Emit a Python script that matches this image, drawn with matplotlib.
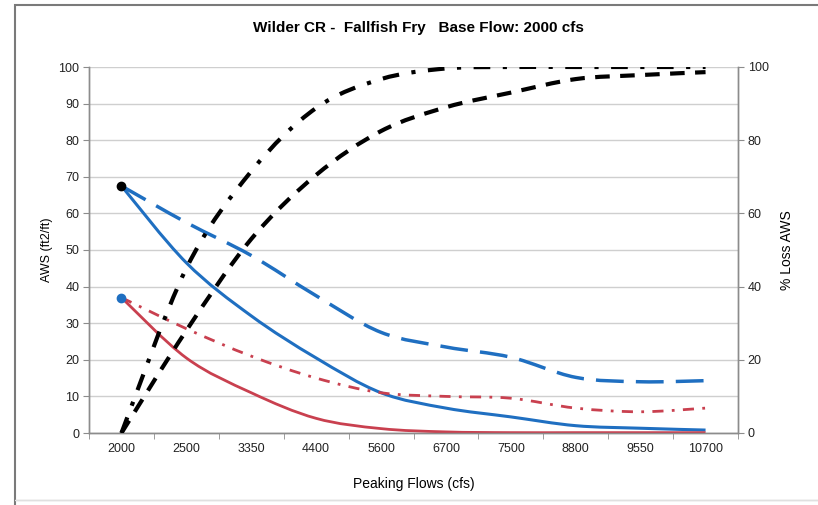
import numpy as np
import matplotlib.pyplot as plt
from matplotlib.path import Path
from matplotlib.patches import PathPatch, Rectangle

flows = ['2000', '2500', '3350', '4400', '5600', '6700', '7500', '8800', '9550', '10700']

# AWS (ft2/ft), left axis
aws_blue_solid = [67.5, 46.5, 32, 20.5, 11, 6.8, 4.4, 2.0, 1.3, 0.8]
aws_blue_dashed = [67.5, 57.5, 48.5, 37.5, 27.5, 23.5, 20.7, 15.2, 14, 14.3]
aws_red_solid = [37, 20.5, 11, 4, 1.2, 0.3, 0.1, 0.1, 0.1, 0.1]
aws_red_dashdot = [37, 28.5, 21, 15, 11, 10, 9.5, 6.8, 5.8, 6.8]

# % loss AWS, right axis
loss_dashed = [0, 28, 53, 70.5, 82.5, 89, 93, 96.7, 97.8, 98.6]
loss_dashdot = [0, 45, 71.5, 88.8, 96.7, 99.6, 100, 100, 100, 100]

BLUE = '#1f6fc1'
RED = '#c9404f'
GRID = '#cfcfcf'
AX = '#8c8c8c'

plt.rcParams['font.family'] = ['Liberation Sans', 'DejaVu Sans']


def smooth_path(xs, ys):
    # Excel style smoothed line: cubic bezier through every point
    pts = np.column_stack([xs, ys]).astype(float)
    verts = [pts[0]]
    codes = [Path.MOVETO]
    n = len(pts)
    for i in range(n - 1):
        p0 = pts[i - 1] if i > 0 else pts[i]
        p1 = pts[i]
        p2 = pts[i + 1]
        p3 = pts[i + 2] if i + 2 < n else pts[i + 1]
        c1 = p1 + (p2 - p0) / 6.0
        c2 = p2 - (p3 - p1) / 6.0
        verts += [c1, c2, p2]
        codes += [Path.CURVE4] * 3
    return Path(verts, codes)


def draw(ax, ys, color, lw, ls):
    xs = np.arange(len(ys))
    ax.add_patch(PathPatch(smooth_path(xs, ys), facecolor='none', edgecolor=color,
                           lw=lw, linestyle=ls, capstyle='butt', joinstyle='round', zorder=3))


fig = plt.figure(figsize=(8.18, 5.05), dpi=100)
fig.patches.append(Rectangle((15 / 818, -0.02), 1.1, 1 - 5 / 505 + 0.02, transform=fig.transFigure,
                             facecolor='none', edgecolor='#7a7a7a', lw=1.5))
fig.patches.append(Rectangle((15 / 818, 1 - 500 / 505), 1.1, 0, transform=fig.transFigure,
                             facecolor='none', edgecolor='#e0e0e0', lw=1))

ax = fig.add_axes([89 / 818, 1 - 433 / 505, (738 - 89) / 818, (433 - 67) / 505])
ax2 = ax.twinx()

ax.set_xlim(-0.5, len(flows) - 0.5)
ax.set_ylim(0, 100)
ax2.set_ylim(0, 100)

ax.set_yticks(np.arange(0, 101, 10))
ax.yaxis.grid(True, color=GRID, lw=1)
ax.set_axisbelow(True)
ax2.set_yticks(np.arange(0, 101, 20))

ax.set_xticks(np.arange(len(flows)))
ax.set_xticklabels(flows)
ax.set_xticks(np.arange(len(flows) + 1) - 0.5, minor=True)
ax.tick_params(axis='x', which='major', length=0, pad=7, labelsize=9, colors='#222222')
ax.tick_params(axis='x', which='minor', length=4, color=AX)
ax.tick_params(axis='y', length=4, color=AX, labelsize=9, labelcolor='#222222', pad=3)
ax2.tick_params(axis='y', length=4, color=AX, labelsize=9, labelcolor='#222222', pad=3)

for a in (ax, ax2):
    a.spines['top'].set_visible(False)
    for s in ('left', 'right', 'bottom'):
        a.spines[s].set_color(AX)
        a.spines[s].set_linewidth(1)

draw(ax, aws_blue_dashed, BLUE, 2.5, (0, (8, 3.5)))
draw(ax, aws_blue_solid, BLUE, 2.2, '-')
draw(ax, aws_red_dashdot, RED, 2.0, (0, (4, 3, 1, 3)))
draw(ax, aws_red_solid, RED, 2.0, '-')
draw(ax2, loss_dashed, 'black', 3.0, (0, (3.5, 2.5)))
draw(ax2, loss_dashdot, 'black', 3.0, (0, (4, 3, 1, 3)))

ax.scatter([0], [aws_blue_solid[0]], s=36, color='black', zorder=5)
ax.scatter([0], [aws_red_solid[0]], s=36, color=BLUE, zorder=5)

ax.set_ylabel('AWS (ft2/ft)', fontsize=9, labelpad=4)
ax2.set_ylabel('% Loss AWS', fontsize=10, labelpad=8)
ax.set_xlabel('Peaking Flows (cfs)', fontsize=10, labelpad=16)
fig.text(418 / 818, 1 - 28 / 505, 'Wilder CR -  Fallfish Fry   Base Flow: 2000 cfs',
         ha='center', va='center', fontsize=11, fontweight='bold')

fig.savefig('out.png', dpi=100)
